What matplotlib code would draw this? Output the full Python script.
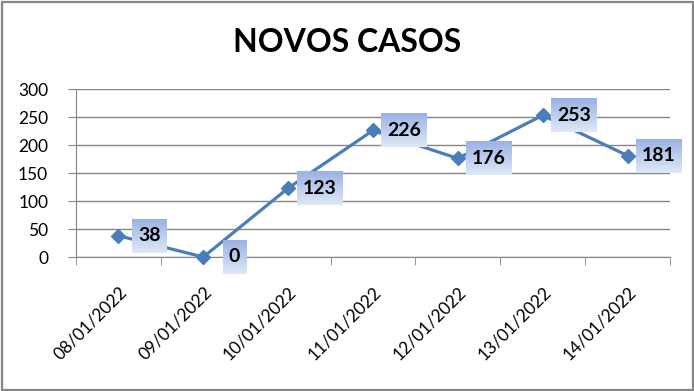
import matplotlib
matplotlib.use("Agg")
import matplotlib.pyplot as plt
import numpy as np
from matplotlib.patches import Rectangle

dates = ["08/01/2022", "09/01/2022", "10/01/2022", "11/01/2022",
         "12/01/2022", "13/01/2022", "14/01/2022"]
novos_casos = [38, 0, 123, 226, 176, 253, 181]
yticks = [0, 50, 100, 150, 200, 250, 300]
title = "NOVOS CASOS"

W, H = 694, 391
fig = plt.figure(figsize=(W / 100, H / 100), dpi=100)
plt.rcParams['font.family'] = ['Lato', 'DejaVu Sans']

# outer border
fig.patches.append(Rectangle((1.5 / W, 1.5 / H), (W - 3) / W, (H - 3) / H,
                             transform=fig.transFigure, fill=False,
                             edgecolor="#868686", linewidth=1.6))

ax = fig.add_axes([76 / W, 1 - 257 / H, (670 - 76) / W, (257 - 89) / H])
x = np.arange(len(dates))
ax.plot(x, novos_casos, color="#4a7ebb", linewidth=2.3, marker="D",
        markersize=7.5, zorder=3, clip_on=False)
ax.set_xlim(-0.5, len(dates) - 0.5)
ax.set_ylim(0, 300)
ax.set_yticks(yticks)
ax.set_yticklabels([str(v) for v in yticks], fontsize=12.5)
ax.yaxis.grid(True, color="#868686", linewidth=1)
ax.set_axisbelow(True)
for s in ["top", "right"]:
    ax.spines[s].set_visible(False)
ax.spines["left"].set_color("#868686")
ax.spines["bottom"].set_color("#868686")
ax.tick_params(axis="y", length=6, color="#868686", pad=14)
ax.set_xticks(x)
ax.set_xticklabels(dates, rotation=45, ha="right", rotation_mode="anchor",
                   fontsize=12.5)
ax.tick_params(axis="x", length=0, pad=19)
ax.set_xticks(np.arange(-0.5, len(dates)), minor=True)
ax.tick_params(axis="x", which="minor", length=6, color="#868686")

fig.text(0.5, 1 - 42 / H, title, ha="center", va="center", fontsize=23,
         fontweight="bold")

texts = []
for xi, v in zip(x, novos_casos):
    t = ax.annotate(str(v), (xi, v), xytext=(22.5, 0), textcoords="offset points",
                    ha="center", va="center", fontsize=14, fontweight="bold",
                    zorder=6, annotation_clip=False)
    texts.append(t)

fig.canvas.draw()
r = fig.canvas.get_renderer()
inv = ax.transData.inverted()
grad = np.linspace(0, 1, 64)[:, None]
top = np.array([0.60, 0.70, 0.89])
bot = np.array([0.88, 0.91, 0.97])
img = (top[None, None, :] * (1 - grad[..., None]) + bot[None, None, :] * grad[..., None])
for t in texts:
    bb = t.get_window_extent(r)
    cx, cy = (bb.x0 + bb.x1) / 2, (bb.y0 + bb.y1) / 2
    hw = bb.width / 2 + 6
    hh = 17
    (x0, y0) = inv.transform((cx - hw, cy - hh))
    (x1, y1) = inv.transform((cx + hw, cy + hh))
    ax.imshow(img, extent=(x0, x1, y0, y1), origin="upper", aspect="auto",
              zorder=5, clip_on=False, interpolation="bilinear")
ax.set_xlim(-0.5, len(dates) - 0.5)
ax.set_ylim(0, 300)
fig.savefig("out.png", dpi=100)
